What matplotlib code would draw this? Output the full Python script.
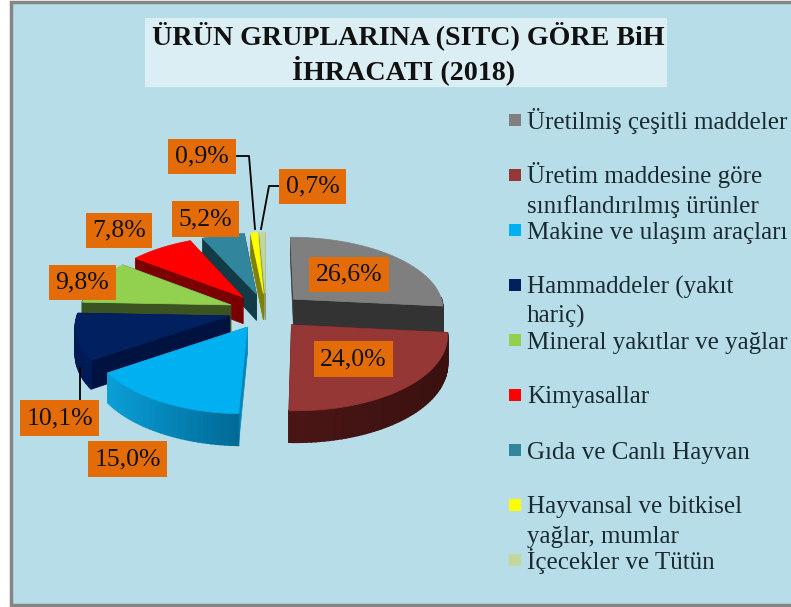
import numpy as np
import matplotlib
matplotlib.use("Agg")
import matplotlib.pyplot as plt
from matplotlib.patches import Rectangle, Polygon

plt.rcParams['font.family'] = ['Liberation Serif', 'DejaVu Serif']

categories = ["Üretilmiş çeşitli maddeler",
              "Üretim maddesine göre\nsınıflandırılmış ürünler",
              "Makine ve ulaşım araçları",
              "Hammaddeler (yakıt\nhariç)",
              "Mineral yakıtlar ve yağlar",
              "Kimyasallar",
              "Gıda ve Canlı Hayvan",
              "Hayvansal ve bitkisel\nyağlar, mumlar",
              "İçecekler ve Tütün"]
values = [26.6, 24.0, 15.0, 10.1, 9.8, 7.8, 5.2, 0.9, 0.7]

top_colors = ['#7f7f7f', '#953735', '#00b0f0', '#002060', '#92d050',
              '#ff0000', '#31859c', '#ffff00', '#c3d69b']
wall_colors = ['#333333', '#3d1312', '#0088bb', '#001240', '#3a5320',
               '#7a0000', '#123a47', '#808000', '#8a9a6a']
rim_left = ['#333333', '#4a1615', '#0a9fd8', '#001a55', '#3a5320',
            '#7a0000', '#123a47', '#808000', '#8a9a6a']
rim_right = ['#333333', '#3a1110', '#006a96', '#001a55', '#3a5320',
             '#7a0000', '#123a47', '#808000', '#8a9a6a']

# label boxes: left, top, right, bottom in pixels
label_boxes = [(309, 257, 389, 292), (314, 341, 393, 377), (88, 441, 167, 477),
               (20, 400, 99, 436), (49, 265, 116, 300), (86, 213, 152, 248),
               (172, 201, 239, 237), (168, 139, 236, 174), (279, 169, 346, 204)]
leaders = [([80, 80], [400, 368]),
           ([237, 249, 255], [156, 156, 229]),
           ([279, 269, 261], [186, 186, 229])]

# pie projection
cx, cy = 266, 311
rx, ry = 151, 72
persp = 0.12
explode = 0.25
depth = 27


def project(X, Y):
    s = 1 / (1 + persp * Y)
    return cx + rx * X * s, cy - ry * Y * s, s


def mix(c1, c2, t):
    a = np.array(matplotlib.colors.to_rgb(c1))
    b = np.array(matplotlib.colors.to_rgb(c2))
    return tuple(a + (b - a) * t)


fig = plt.figure(figsize=(7.91, 6.07), dpi=100, facecolor='white')
ax = fig.add_axes([0, 0, 1, 1])
ax.set_xlim(0, 791)
ax.set_ylim(607, 0)
ax.axis('off')

ax.add_patch(Rectangle((10.5, 1.5), 800, 603.5, facecolor='#b7dde8', edgecolor='#858585', lw=2.5))
ax.add_patch(Rectangle((145, 18), 522, 69, facecolor='#dbeef4', edgecolor='none'))
ax.text(408, 36, "ÜRÜN GRUPLARINA (SITC) GÖRE BiH", ha='center', va='center',
        fontsize=20.2, fontweight='bold', color='#111111')
ax.text(404, 70, "İHRACATI (2018)", ha='center', va='center',
        fontsize=20.2, fontweight='bold', color='#111111')

# angles clockwise from 12 o'clock
total = sum(values)
edges = np.concatenate([[0], np.cumsum(values)]) / total * 2 * np.pi
order = [8, 7, 6, 5, 4, 3, 0, 2, 1]

for i in order:
    t1, t2 = edges[i], edges[i + 1]
    mid = (t1 + t2) / 2
    ox, oy = explode * np.sin(mid), explode * np.cos(mid)
    th = np.linspace(t1, t2, max(int((t2 - t1) * 40), 4))
    X = np.concatenate([[ox], ox + np.sin(th)])
    Y = np.concatenate([[oy], oy + np.cos(th)])
    px, py, ps = project(X, Y)
    low = py + depth * ps

    # cut walls
    for k in (1, -1):
        quad = [(px[0], py[0]), (px[k], py[k]), (px[k], low[k]), (px[0], low[0])]
        ax.add_patch(Polygon(quad, facecolor=wall_colors[i], edgecolor=wall_colors[i], lw=0.5))
    # rim, shaded along the arc
    for j in range(1, len(px) - 1):
        if np.cos(th[j - 1]) > 0.05:
            continue
        f = (px[j] - px[1:].min()) / max(px[1:].max() - px[1:].min(), 1)
        c = mix(rim_left[i], rim_right[i], f)
        quad = [(px[j], py[j]), (px[j + 1], py[j + 1]), (px[j + 1], low[j + 1]), (px[j], low[j])]
        ax.add_patch(Polygon(quad, facecolor=c, edgecolor=c, lw=1.2))
    ax.add_patch(Polygon(np.column_stack([px, py]), facecolor=top_colors[i],
                         edgecolor=top_colors[i], lw=0.5))

for lx, ly in leaders:
    ax.plot(lx, ly, color='black', lw=1.3, zorder=4)

for val, box in zip(values, label_boxes):
    x0, y0, x1, y1 = box
    ax.add_patch(Rectangle((x0, y0), x1 - x0, y1 - y0, facecolor='#e36c09',
                           edgecolor='none', zorder=5))
    ax.text((x0 + x1) / 2, (y0 + y1) / 2, f"{val:.1f}%".replace('.', ','), ha='center',
            va='center', fontsize=18.5, color='#111111', zorder=6)

# legend, one row every 55 px
for i, name in enumerate(categories):
    y = 120 + 55 * i
    ax.add_patch(Rectangle((509, y - 6), 12, 12, facecolor=top_colors[i], edgecolor='none'))
    for n, line in enumerate(name.split('\n')):
        ax.text(527, y + 8.5 + 29 * n, line, ha='left', va='baseline', fontsize=18,
                color='#1a2a30')

fig.savefig("out.png", dpi=100)
